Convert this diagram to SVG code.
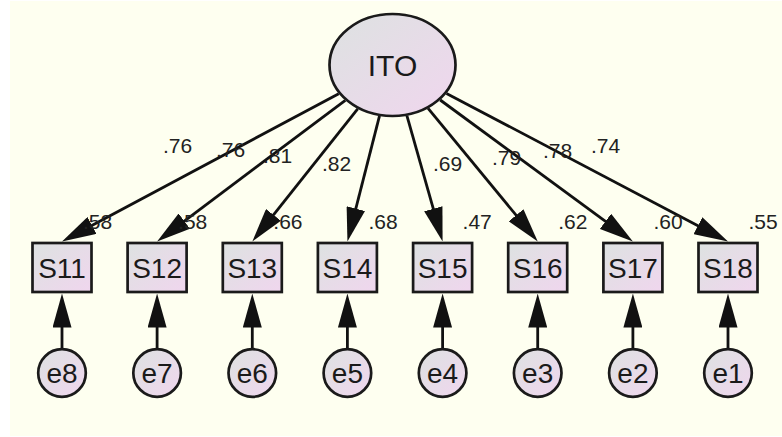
<svg xmlns="http://www.w3.org/2000/svg" width="782" height="437" viewBox="0 0 782 437">
  <defs>
    <linearGradient id="nodeFill" x1="0" y1="0" x2="1" y2="1">
      <stop offset="0" stop-color="#dde2e1"/>
      <stop offset="1" stop-color="#f0d6ee"/>
    </linearGradient>
    <marker id="head" markerUnits="userSpaceOnUse" markerWidth="34" markerHeight="19" refX="22" refY="9.5" orient="auto">
      <path d="M0,0 L34,9.5 L0,19 z" fill="#111"/>
    </marker>
    <style>
      .node { fill: url(#nodeFill); stroke: #1a1a1a; stroke-width: 2.7; }
      .lbl { font-family: "Liberation Sans", Arial, sans-serif; fill: #1a1a1a; text-anchor: middle; }
      .big { font-size: 30px; }
      .var { font-size: 28px; }
      .err { font-size: 28px; }
      .num { font-family: "Liberation Sans", Arial, sans-serif; font-size: 21px; fill: #222; }
      .conn line { stroke: #111; stroke-width: 2.8; marker-end: url(#head); }
    </style>
  </defs>

  <rect x="0" y="0" width="782" height="437" fill="#ffffff"/>
  <rect x="10" y="1" width="772" height="435" fill="#fefff0"/>

  <!-- connectors: factor loadings and error terms -->
  <g id="connectors" class="conn">
    <line x1="338.7" y1="93.7" x2="72.6" y2="235.8"/>
    <line x1="345.3" y1="100.4" x2="166.7" y2="234.3"/>
    <line x1="357.7" y1="108.8" x2="259.8" y2="232.1"/>
    <line x1="379.5" y1="115.9" x2="350.4" y2="229.9"/>
    <line x1="406.9" y1="115.7" x2="439.3" y2="229.9"/>
    <line x1="428.1" y1="108.3" x2="530.1" y2="232.2"/>
    <line x1="440.2" y1="100.0" x2="623.2" y2="234.4"/>
    <line x1="446.5" y1="93.4" x2="717.4" y2="235.9"/>

    <line x1="62" y1="348" x2="62" y2="305.5"/>
    <line x1="157.1" y1="348" x2="157.1" y2="305.5"/>
    <line x1="252.3" y1="348" x2="252.3" y2="305.5"/>
    <line x1="347.4" y1="348" x2="347.4" y2="305.5"/>
    <line x1="442.6" y1="348" x2="442.6" y2="305.5"/>
    <line x1="537.7" y1="348" x2="537.7" y2="305.5"/>
    <line x1="632.9" y1="348" x2="632.9" y2="305.5"/>
    <line x1="728" y1="348" x2="728" y2="305.5"/>
  </g>

  <!-- latent factor -->
  <g id="ITO">
    <ellipse class="node" cx="392.5" cy="65" rx="63" ry="51"/>
    <text class="lbl big" x="392.5" y="75.5">ITO</text>
  </g>

  <!-- observed items -->
  <g id="S11"><rect class="node" x="32.5" y="243" width="59" height="49"/><text class="lbl var" x="62" y="278">S11</text></g>
  <g id="S12"><rect class="node" x="127.6" y="243" width="59" height="49"/><text class="lbl var" x="157.1" y="278">S12</text></g>
  <g id="S13"><rect class="node" x="222.8" y="243" width="59" height="49"/><text class="lbl var" x="252.3" y="278">S13</text></g>
  <g id="S14"><rect class="node" x="317.9" y="243" width="59" height="49"/><text class="lbl var" x="347.4" y="278">S14</text></g>
  <g id="S15"><rect class="node" x="413.1" y="243" width="59" height="49"/><text class="lbl var" x="442.6" y="278">S15</text></g>
  <g id="S16"><rect class="node" x="508.2" y="243" width="59" height="49"/><text class="lbl var" x="537.7" y="278">S16</text></g>
  <g id="S17"><rect class="node" x="603.4" y="243" width="59" height="49"/><text class="lbl var" x="632.9" y="278">S17</text></g>
  <g id="S18"><rect class="node" x="698.5" y="243" width="59" height="49"/><text class="lbl var" x="728" y="278">S18</text></g>

  <!-- error terms -->
  <g id="e8"><circle class="node" cx="62" cy="373" r="23.8"/><text class="lbl err" x="62" y="383">e8</text></g>
  <g id="e7"><circle class="node" cx="157.1" cy="373" r="23.8"/><text class="lbl err" x="157.1" y="383">e7</text></g>
  <g id="e6"><circle class="node" cx="252.3" cy="373" r="23.8"/><text class="lbl err" x="252.3" y="383">e6</text></g>
  <g id="e5"><circle class="node" cx="347.4" cy="373" r="23.8"/><text class="lbl err" x="347.4" y="383">e5</text></g>
  <g id="e4"><circle class="node" cx="442.6" cy="373" r="23.8"/><text class="lbl err" x="442.6" y="383">e4</text></g>
  <g id="e3"><circle class="node" cx="537.7" cy="373" r="23.8"/><text class="lbl err" x="537.7" y="383">e3</text></g>
  <g id="e2"><circle class="node" cx="632.9" cy="373" r="23.8"/><text class="lbl err" x="632.9" y="383">e2</text></g>
  <g id="e1"><circle class="node" cx="728" cy="373" r="23.8"/><text class="lbl err" x="728" y="383">e1</text></g>

  <!-- standardized loadings -->
  <g id="loadings">
    <text class="num" x="163" y="153">.76</text>
    <text class="num" x="216" y="157">.76</text>
    <text class="num" x="263" y="163">.81</text>
    <text class="num" x="322" y="171">.82</text>
    <text class="num" x="433" y="171">.69</text>
    <text class="num" x="492" y="165">.79</text>
    <text class="num" x="543" y="158">.78</text>
    <text class="num" x="591" y="153">.74</text>
  </g>

  <!-- squared multiple correlations -->
  <g id="r-squared">
    <text class="num" x="83" y="229">.58</text>
    <text class="num" x="178.1" y="229">.58</text>
    <text class="num" x="273.3" y="229">.66</text>
    <text class="num" x="368.4" y="229">.68</text>
    <text class="num" x="462.6" y="229">.47</text>
    <text class="num" x="558.2" y="229">.62</text>
    <text class="num" x="653.5" y="229">.60</text>
    <text class="num" x="748.5" y="229">.55</text>
  </g>
</svg>
